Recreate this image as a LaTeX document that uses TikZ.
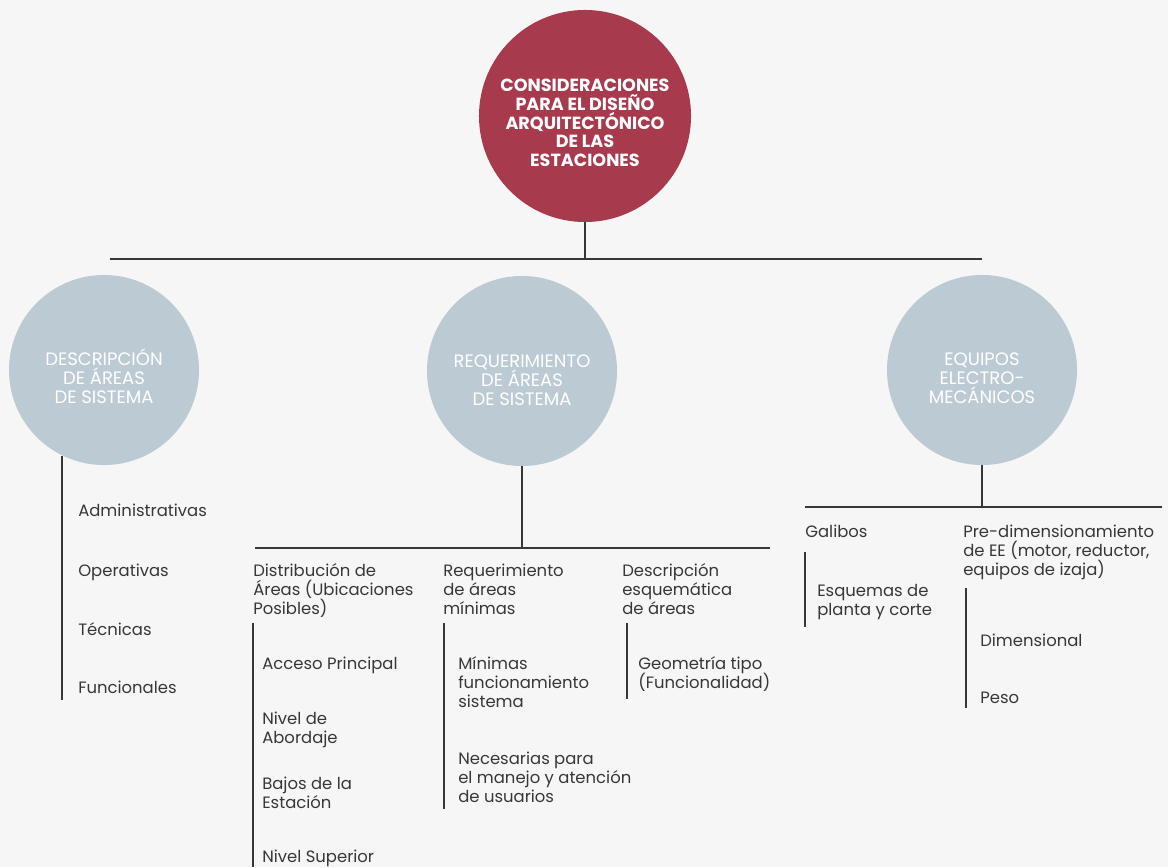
\documentclass[tikz,border=0pt]{standalone}
\usepackage{fontspec}
\setmainfont{Poppins}
\usetikzlibrary{positioning}
\definecolor{granate}{RGB}{168,58,78}
\definecolor{grisazul}{RGB}{188,202,211}
\definecolor{fondo}{RGB}{246,246,246}
\definecolor{tinta}{RGB}{55,55,55}
\lineskiplimit=-10pt

\tikzset{
  raiz/.style={circle,fill=granate,minimum size=5.3cm,inner sep=0pt},
  rama/.style={circle,fill=grisazul,minimum size=4.75cm,inner sep=0pt},
  titraiz/.style={inner sep=0pt,align=center,text=white,font=\bfseries\fontsize{12.5}{13.3}\selectfont},
  titrama/.style={inner sep=0pt,align=center,text=white,font=\fontsize{12.8}{13.5}\selectfont},
  texto/.style={anchor=base west,inner sep=0pt,align=left,text=tinta,font=\fontsize{11.7}{13.5}\selectfont},
  linea/.style={draw=tinta,line width=1.2pt}
}

\begin{document}
\begin{tikzpicture}[x=0.025cm,y=-0.025cm]
\fill[fondo] (0,0) rectangle (1168,867);
\useasboundingbox (0,0) rectangle (1168,867);

% circulo principal
\node[raiz] (cons) at (585,116) {};
\node[titraiz] (consT) at (585,123) {CONSIDERACIONES\\PARA EL DISEÑO\\ARQUITECTÓNICO\\DE LAS\\ESTACIONES};
\coordinate (busI) at (110,259);
\coordinate (busC) at (585,259);
\coordinate (busD) at (982,259);
\draw[linea] (busI) -- (busD);
\draw[linea] (cons.south) -- (busC);

% tres ramas
\node[rama] (desc) at (104,370) {};
\node[titrama] (descT) at (104,376) {DESCRIPCIÓN\\DE ÁREAS\\DE SISTEMA};
\node[rama] (req) at (522,371) {};
\node[titrama] (reqT) at (522,380) {REQUERIMIENTO\\DE ÁREAS\\DE SISTEMA};
\node[rama] (equ) at (982,370) {};
\node[titrama] (equT) at (982,378) {EQUIPOS\\ELECTRO-\\MECÁNICOS};

% descripcion de areas
\coordinate (descFin) at (63,700);
\draw[linea] (desc.244) -- (desc.244 |- descFin);
\node[texto] (adm) at (78,516) {Administrativas};
\node[texto] (ope) at (78,576) {Operativas};
\node[texto] (tec) at (78,635) {Técnicas};
\node[texto] (fun) at (78,693) {Funcionales};

% requerimiento de areas
\coordinate (reqI) at (255,548);
\coordinate (reqC) at (522,548);
\coordinate (reqD) at (770,548);
\draw[linea] (reqI) -- (reqD);
\draw[linea] (req.south) -- (reqC);
\node[texto] (dist) at (253,614) {Distribución de\\Áreas (Ubicaciones\\Posibles)};
\node[texto] (minr) at (443,614) {Requerimiento\\de áreas\\mínimas};
\node[texto] (esq) at (622,614) {Descripción\\esquemática\\de áreas};
\draw[linea] (253,623) -- (253,867);
\draw[linea] (444,623) -- (444,809);
\draw[linea] (627,623) -- (627,699);
\node[texto] (acc) at (262,669) {Acceso Principal};
\node[texto] (abo) at (262,743) {Nivel de\\Abordaje};
\node[texto] (baj) at (262,808) {Bajos de la\\Estación};
\node[texto] (sup) at (262,862) {Nivel Superior};
\node[texto] (mfs) at (458,707) {Mínimas\\funcionamiento\\sistema};
\node[texto] (nec) at (458,802) {Necesarias para\\el manejo y atención\\de usuarios};
\node[texto] (geo) at (638,688) {Geometría tipo\\(Funcionalidad)};

% equipos electromecanicos
\coordinate (equI) at (805,507);
\coordinate (equC) at (982,507);
\coordinate (equD) at (1162,507);
\draw[linea] (equI) -- (equD);
\draw[linea] (equ.south) -- (equC);
\node[texto] (gal) at (805,537) {Galibos};
\node[texto] (pre) at (963,575) {Pre-dimensionamiento\\de EE (motor, reductor,\\equipos de izaja)};
\draw[linea] (805,552) -- (805,627);
\draw[linea] (966,588) -- (966,708);
\node[texto] (plc) at (817,615) {Esquemas de\\planta y corte};
\node[texto] (dim) at (980,646) {Dimensional};
\node[texto] (pes) at (980,703) {Peso};
\end{tikzpicture}
\end{document}
